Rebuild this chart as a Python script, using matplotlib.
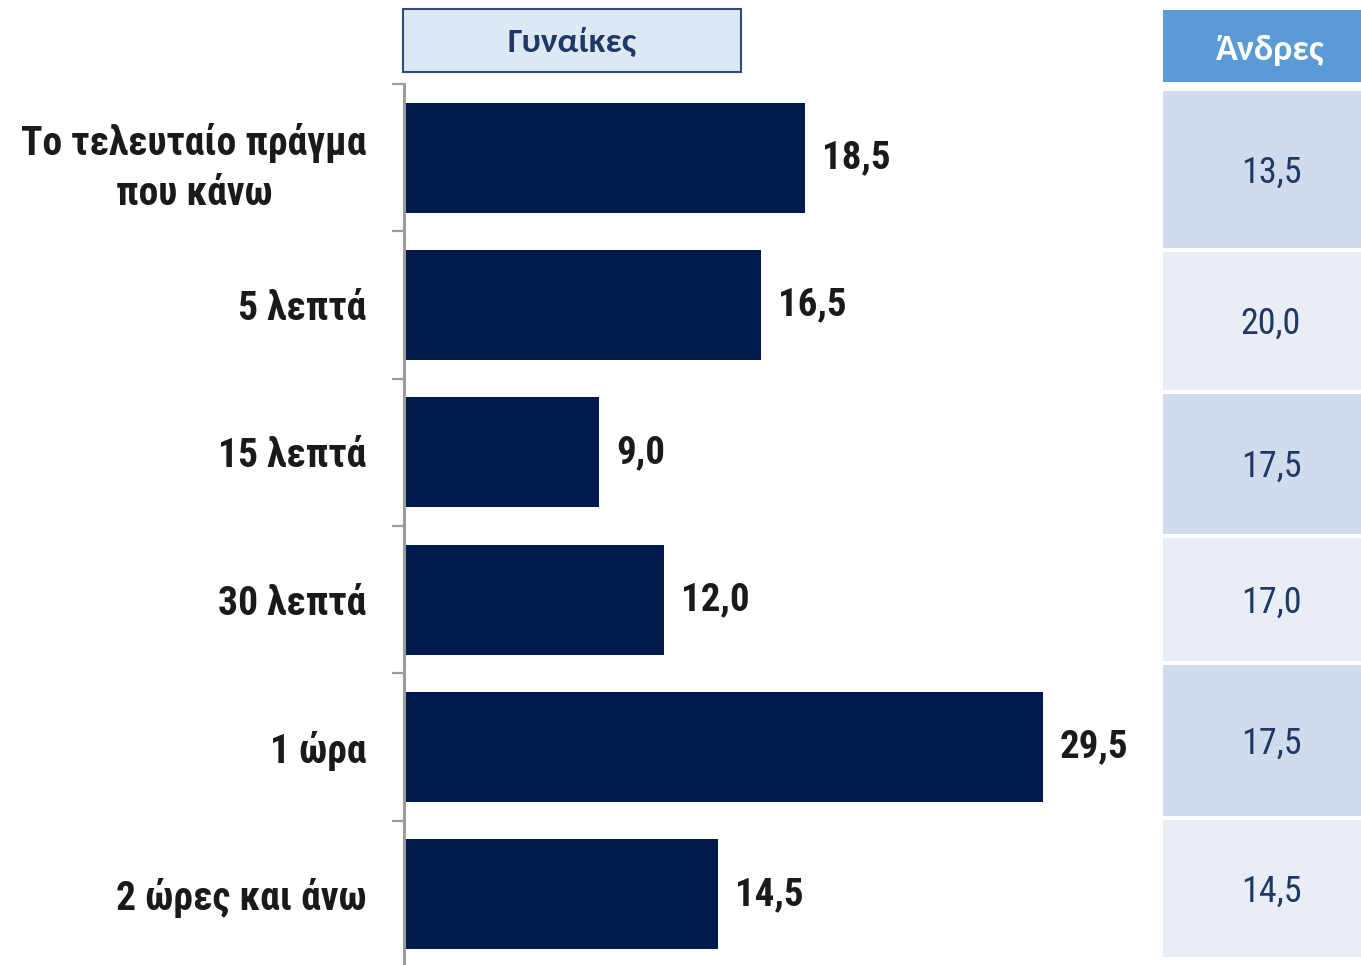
import matplotlib
matplotlib.use("Agg")
import matplotlib.pyplot as plt
from matplotlib.patches import Rectangle
from matplotlib import font_manager as fm

categories = ["Το τελευταίο πράγμα\nπου κάνω", "5 λεπτά", "15 λεπτά", "30 λεπτά", "1 ώρα", "2 ώρες και άνω"]
women = [18.5, 16.5, 9.0, 12.0, 29.5, 14.5]
men = [13.5, 20.0, 17.5, 17.0, 17.5, 14.5]
women_title = "Γυναίκες"
men_title = "Άνδρες"

names = {f.name for f in fm.fontManager.ttflist}

def pick(cands):
    for c in cands:
        if c in names:
            return c
    return "DejaVu Sans"

narrow = pick(["Liberation Sans Narrow", "Arial Narrow", "Roboto Condensed", "Open Sans Condensed"])
head = pick(["Carlito", "Calibri", "Open Sans"])
FAM = [narrow, "DejaVu Sans"]
HFAM = [head, "DejaVu Sans"]

W, H = 1361, 965
fig = plt.figure(figsize=(W / 100, H / 100), dpi=100)

def fx(px):
    return px / W

def fy(py):
    return 1 - py / H

# Main bar axes
top_px, bot_px = 84, 968
ax = fig.add_axes([fx(404), fy(bot_px), fx(1150) - fx(404), (bot_px - top_px) / H])
y = list(range(len(categories)))
ax.barh(y, women, height=0.745, color="#001a4e", zorder=2)
ax.set_xlim(0, 746 / 21.66)
ax.set_ylim(len(categories) - 0.5, -0.5)
for s in ["top", "right", "bottom"]:
    ax.spines[s].set_visible(False)
ax.spines["left"].set_color("#9c9c9c")
ax.spines["left"].set_linewidth(2.2)
ax.set_xticks([])
ax.set_yticks(y)
ax.set_yticklabels(categories, fontsize=28.5, fontweight="bold", family=FAM,
                   color="#1a1a1a", linespacing=1.42)
for lbl in ax.get_yticklabels():
    lbl.set_multialignment("center")
ax.tick_params(axis="y", which="major", length=0, pad=27)
ax.set_yticks([i - 0.5 for i in range(len(categories))], minor=True)
ax.tick_params(axis="y", which="minor", length=9, width=1.6, color="#9c9c9c", direction="out")
for yi, v in zip(y, women):
    ax.text(v + 0.78, yi, f"{v:.1f}".replace(".", ","), va="center", ha="left",
            fontsize=28, fontweight="bold", family=FAM, color="#1a1a1a")

# Women header box
fig.patches.append(Rectangle((fx(403), fy(72)), fx(741) - fx(403), (72 - 9) / H,
                             transform=fig.transFigure, facecolor="#dde8f5",
                             edgecolor="#2f4a7a", linewidth=1.5))
fig.text(fx(572), fy(42), women_title, ha="center", va="center", fontsize=25.5,
         fontweight="bold", family=HFAM, color="#1f3864")

# Men table
x0, x1 = 1163, 1361
fig.patches.append(Rectangle((fx(x0), fy(82)), fx(x1) - fx(x0), (82 - 10) / H,
                             transform=fig.transFigure, facecolor="#5b9bd5", edgecolor="none"))
fig.text(fx(1270), fy(50), men_title, ha="center", va="center", fontsize=26,
         fontweight="bold", family=HFAM, color="white")
row_edges = [(91, 248), (252, 390), (394, 534), (538, 661), (665, 816), (820, 957)]
row_colors = ["#d0dcee", "#e8edf6"]
for i, ((a, b), v) in enumerate(zip(row_edges, men)):
    fig.patches.append(Rectangle((fx(x0), fy(b)), fx(x1) - fx(x0), (b - a) / H,
                                 transform=fig.transFigure,
                                 facecolor=row_colors[i % 2], edgecolor="none"))
    fig.text(fx(1271), fy((a + b) / 2 + 3), f"{v:.1f}".replace(".", ","), ha="center",
             va="center", fontsize=26, family=FAM, color="#1f3864")

fig.savefig("out.png", dpi=100)
